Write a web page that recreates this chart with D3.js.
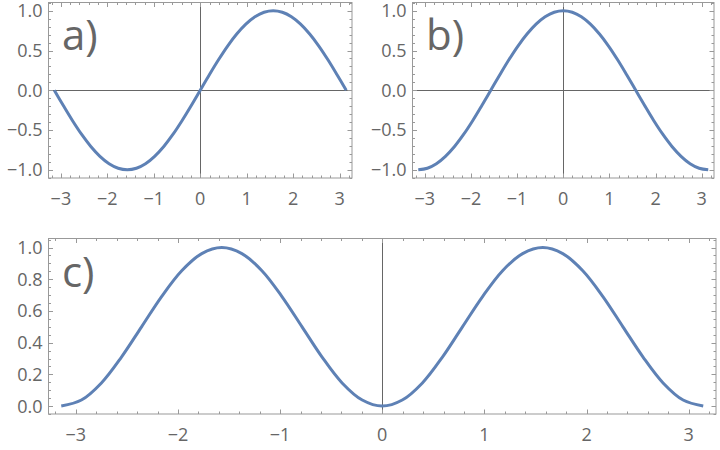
<!DOCTYPE html>
<html>
<head>
<meta charset="utf-8">
<script src="https://cdn.jsdelivr.net/npm/d3@7"></script>
<style>
  body { margin: 0; background: #fff; }
  svg text { font-family: "Open Sans", "Noto Sans", sans-serif; fill: #666; }
</style>
</head>
<body>
<div id="chart"></div>
<script>
// sample positions, step pi/16 from -pi to pi
var xs = [-3.142, -2.945, -2.749, -2.553, -2.356, -2.160, -1.963, -1.767, -1.571, -1.374, -1.178, -0.982, -0.785, -0.589, -0.393, -0.196, 0,
          0.196, 0.393, 0.589, 0.785, 0.982, 1.178, 1.374, 1.571, 1.767, 1.963, 2.160, 2.356, 2.553, 2.749, 2.945, 3.142];
var sinVals = [0, -0.195, -0.383, -0.556, -0.707, -0.831, -0.924, -0.981, -1, -0.981, -0.924, -0.831, -0.707, -0.556, -0.383, -0.195, 0,
               0.195, 0.383, 0.556, 0.707, 0.831, 0.924, 0.981, 1, 0.981, 0.924, 0.831, 0.707, 0.556, 0.383, 0.195, 0];
var cosVals = [-1, -0.981, -0.924, -0.831, -0.707, -0.556, -0.383, -0.195, 0, 0.195, 0.383, 0.556, 0.707, 0.831, 0.924, 0.981, 1,
               0.981, 0.924, 0.831, 0.707, 0.556, 0.383, 0.195, 0, -0.195, -0.383, -0.556, -0.707, -0.831, -0.924, -0.981, -1];
var sqVals = [0, 0.038, 0.146, 0.309, 0.5, 0.691, 0.854, 0.962, 1, 0.962, 0.854, 0.691, 0.5, 0.309, 0.146, 0.038, 0,
              0.038, 0.146, 0.309, 0.5, 0.691, 0.854, 0.962, 1, 0.962, 0.854, 0.691, 0.5, 0.309, 0.146, 0.038, 0];

var xTicks = [-3, -2, -1, 0, 1, 2, 3];
var yTicksAB = [-1, -0.5, 0, 0.5, 1];
var yTicksC = [0, 0.2, 0.4, 0.6, 0.8, 1];

var width = 720, height = 450;
var lineColor = "#5e81b5";
var frameColor = "#999";

var svg = d3.select("#chart").append("svg")
    .attr("width", width)
    .attr("height", height);

drawPanel({ left: 48.5, right: 352, top: 2.5, bottom: 178, xDom: [-3.267, 3.267], yDom: [-1.104, 1.104],
            ys: sinVals, yTicks: yTicksAB, yMinor: 0.1, label: "a)", labelX: 62, labelY: 50, hAxis: true });
drawPanel({ left: 412.5, right: 714, top: 2.5, bottom: 178, xDom: [-3.267, 3.267], yDom: [-1.104, 1.104],
            ys: cosVals, yTicks: yTicksAB, yMinor: 0.1, label: "b)", labelX: 426, labelY: 50, hAxis: true });
drawPanel({ left: 48.5, right: 716, top: 238.5, bottom: 414, xDom: [-3.267, 3.267], yDom: [-0.05, 1.057],
            ys: sqVals, yTicks: yTicksC, yMinor: 0.05, label: "c)", labelX: 62, labelY: 287, hAxis: false });

function drawPanel(p){
    var x = d3.scaleLinear().domain(p.xDom).range([p.left, p.right]);
    var y = d3.scaleLinear().domain(p.yDom).range([p.bottom, p.top]);
    var g = svg.append("g");

    // axes through origin
    g.append("line")
        .attr("x1", Math.round(x(0)) + 0.5).attr("x2", Math.round(x(0)) + 0.5)
        .attr("y1", p.top).attr("y2", p.bottom)
        .attr("stroke", "#666").attr("stroke-width", 1);
    if (p.hAxis) {
        g.append("line")
            .attr("x1", p.left).attr("x2", p.right)
            .attr("y1", Math.round(y(0)) + 0.5).attr("y2", Math.round(y(0)) + 0.5)
            .attr("stroke", "#666").attr("stroke-width", 1);
    }

    // minor ticks
    var xMinor = d3.range(-16, 17).map(function(i){ return i * 0.2; })
        .filter(function(v){ return v >= p.xDom[0] && v <= p.xDom[1]; });
    var nMin = Math.ceil(p.yDom[0] / p.yMinor), nMax = Math.floor(p.yDom[1] / p.yMinor);
    var yMinor = d3.range(nMin, nMax + 1).map(function(i){ return i * p.yMinor; });

    xMinor.forEach(function(v){
        var major = Math.abs(v - Math.round(v)) < 1e-6;
        var len = major ? 4.5 : 2.5;
        var px = Math.round(x(v)) + 0.5;
        g.append("line").attr("x1", px).attr("x2", px).attr("y1", p.bottom).attr("y2", p.bottom - len)
            .attr("stroke", frameColor);
        g.append("line").attr("x1", px).attr("x2", px).attr("y1", p.top).attr("y2", p.top + len)
            .attr("stroke", frameColor);
    });
    yMinor.forEach(function(v){
        var major = p.yTicks.some(function(t){ return Math.abs(t - v) < 1e-6; });
        var len = major ? 4.5 : 2.5;
        var py = Math.round(y(v)) + 0.5;
        g.append("line").attr("x1", p.left).attr("x2", p.left + len).attr("y1", py).attr("y2", py)
            .attr("stroke", frameColor);
        g.append("line").attr("x1", p.right).attr("x2", p.right - len).attr("y1", py).attr("y2", py)
            .attr("stroke", frameColor);
    });

    // frame
    g.append("rect")
        .attr("x", p.left).attr("y", p.top)
        .attr("width", p.right - p.left).attr("height", p.bottom - p.top)
        .attr("fill", "none").attr("stroke", frameColor).attr("stroke-width", 1);

    // tick labels
    g.selectAll(".xl").data(xTicks).enter().append("text")
        .attr("x", function(d){ return x(d); })
        .attr("y", p.bottom + 27)
        .attr("text-anchor", "middle")
        .attr("font-size", 18)
        .text(function(d){ return d < 0 ? "\u2212" + Math.abs(d) : d; });
    g.selectAll(".yl").data(p.yTicks).enter().append("text")
        .attr("x", p.left - 6)
        .attr("y", function(d){ return y(d) + 6.5; })
        .attr("text-anchor", "end")
        .attr("font-size", 18)
        .text(function(d){ return d < 0 ? "\u2212" + Math.abs(d).toFixed(1) : d.toFixed(1); });

    // curve
    var line = d3.line()
        .x(function(d){ return x(d[0]); })
        .y(function(d){ return y(d[1]); })
        .curve(d3.curveCatmullRom);
    g.append("path")
        .datum(d3.zip(xs, p.ys))
        .attr("fill", "none")
        .attr("stroke", lineColor)
        .attr("stroke-width", 3)
        .attr("d", line);

    g.append("text")
        .attr("x", p.labelX).attr("y", p.labelY)
        .attr("font-size", 42)
        .text(p.label);
}
</script>
</body>
</html>
